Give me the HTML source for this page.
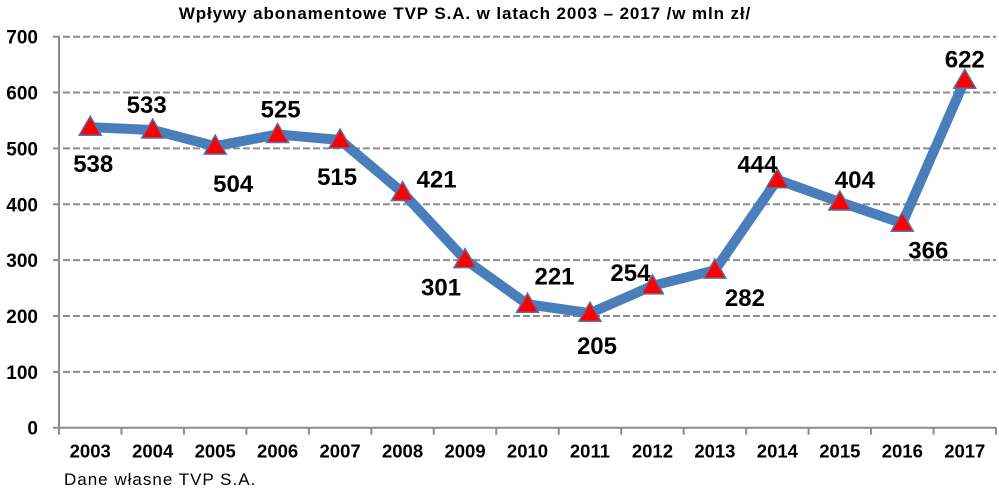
<!DOCTYPE html>
<html><head><meta charset="utf-8"><style>
html,body{margin:0;padding:0;background:#fff;}
svg{display:block;font-family:"Liberation Sans",Calibri,sans-serif;}
</style></head><body>
<svg id="chart" width="999" height="490">
<text x="465" y="19" text-anchor="middle" font-size="17" font-weight="bold" letter-spacing="0.9" fill="#000">Wpływy abonamentowe TVP S.A. w latach 2003 – 2017 /w mln zł/</text>
<text x="64" y="485" font-size="17" letter-spacing="1" fill="#000">Dane własne TVP S.A.</text>
<g id="grid"></g><g id="axes"></g><g id="series"></g><g id="labels"></g>
</svg>
<script>
const years = ["2003","2004","2005","2006","2007","2008","2009","2010","2011","2012","2013","2014","2015","2016","2017"];
const values = [538,533,504,525,515,421,301,221,205,254,282,444,404,366,622];
const yTicks = [0,100,200,300,400,500,600,700];
// label offsets (layout only)
const labelDx = [3,-6,18,3,-3,34,-24,27,7,-22,30,-20,15,26,0];
const labelDy = [37,-25,38,-25,37,-13,28,-28,33,-13,28,-15,-22,27,-21];

const NS="http://www.w3.org/2000/svg";
const L=59,R=996,T=36.7,B=427.7,yMax=700;
const bw=(R-L)/years.length;
const xS=i=>L+bw*(i+0.5);
const yS=v=>B-(v/yMax)*(B-T);
function mk(tag,attrs,parent){const e=document.createElementNS(NS,tag);for(const k in attrs)e.setAttribute(k,attrs[k]);document.getElementById(parent).appendChild(e);return e;}

yTicks.forEach(t=>{
  const y=yS(t);
  if(t>0){const g=mk("line",{x1:53,x2:R,y1:y,y2:y,stroke:"#8c8c8c","stroke-width":2,"stroke-dasharray":"7,3"},"grid");
  
  }
  const tx=mk("text",{x:38,y:y+7,"text-anchor":"end","font-size":19,"font-weight":"bold",fill:"#000"},"axes");
  tx.textContent=t;
  
  
});
const ya=mk("line",{x1:L,x2:L,y1:T,y2:B,stroke:"#8c8c8c","stroke-width":2},"axes");


const xa=mk("line",{x1:53,x2:R,y1:B,y2:B,stroke:"#8c8c8c","stroke-width":2},"axes");


for(let i=0;i<=years.length;i++){const x=L+bw*i;mk("line",{x1:x,x2:x,y1:B,y2:B+7,stroke:"#8c8c8c","stroke-width":2},"axes");}
years.forEach((yr,i)=>{
  const t=mk("text",{x:xS(i),y:B+30,"text-anchor":"middle","font-size":18.5,"font-weight":"bold",fill:"#000"},"axes");
  t.textContent=yr;
  
  
});
const pts=values.map((v,i)=>xS(i)+","+yS(v)).join(" ");
const line=mk("polyline",{points:pts,fill:"none",stroke:"#4a7ebb","stroke-width":10,"stroke-linejoin":"round"},"series");


values.forEach((v,i)=>{
  const x=xS(i),y=yS(v);
  const p=mk("polygon",{points:`${x},${y-11} ${x+11},${y+8} ${x-11},${y+8}`,fill:"#ff0000",stroke:"#5b6fa8","stroke-width":1.5},"series");
  
  
  const t=mk("text",{x:x+labelDx[i],y:y+labelDy[i]+8,"text-anchor":"middle","font-size":24,"font-weight":"bold",fill:"#000"},"labels");
  t.textContent=v;
  
  
});
</script>
</body></html>
